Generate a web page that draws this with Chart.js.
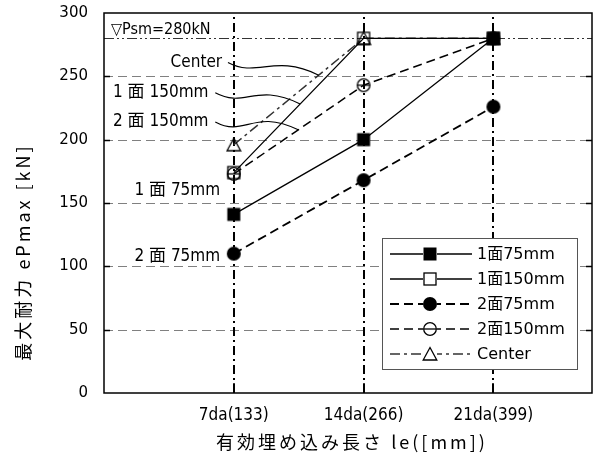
<!DOCTYPE html>
<html>
<head>
<meta charset="utf-8">
<script src="https://cdn.jsdelivr.net/npm/chart.js@4/dist/chart.umd.min.js"></script>
<style>
  html, body { margin: 0; padding: 0; background: #fff; }
  #wrap { width: 594px; height: 455px; }
</style>
</head>
<body>
<div id="wrap"><canvas id="chart"></canvas></div>
<script>
// data
const xTicks = [133, 266, 399];
const xTickLabels = ['7da(133)', '14da(266)', '21da(399)'];
const seriesNames = ['1面75mm', '1面150mm', '2面75mm', '2面150mm', 'Center'];
const face1_75 = [141, 200, 280];
const face1_150 = [174, 280, 280];
const face2_75 = [110, 168, 226];
const face2_150 = [173, 243, 280];
const centerVals = [196, 280, 280];
const psm = 280;

const LABEL_FONT = '"DejaVu Sans Condensed", "DejaVu Sans", "Noto Sans CJK JP", sans-serif';
const CJK_FONT = '"Noto Sans CJK JP", sans-serif';

// markers as small canvases (open ones are not filled, lines show through)
function makeMarker(kind) {
  const s = 16;
  const c = document.createElement('canvas');
  c.width = s; c.height = s;
  const g = c.getContext('2d');
  const m = s / 2;
  g.lineWidth = 1.3;
  g.strokeStyle = '#000';
  g.fillStyle = '#000';
  if (kind === 'sqFill') {
    g.fillRect(m - 6.5, m - 6.5, 13, 13);
  } else if (kind === 'sqOpen') {
    g.strokeRect(m - 6, m - 6, 12, 12);
  } else if (kind === 'circFill') {
    g.beginPath();
    g.arc(m, m, 7, 0, Math.PI * 2);
    g.fill();
  } else if (kind === 'circLine') {
    g.beginPath();
    g.arc(m, m, 6.3, 0, Math.PI * 2);
    g.stroke();
    g.beginPath();
    g.moveTo(m - 6.3, m); g.lineTo(m + 6.3, m);
    g.stroke();
  } else if (kind === 'tri') {
    g.beginPath();
    g.moveTo(m, m - 6.5);
    g.lineTo(m + 6.8, m + 6);
    g.lineTo(m - 6.8, m + 6);
    g.closePath();
    g.stroke();
  }
  return c;
}

const markers = [makeMarker('sqFill'), makeMarker('sqOpen'), makeMarker('circFill'), makeMarker('circLine'), makeMarker('tri')];
const seriesVals = [face1_75, face1_150, face2_75, face2_150, centerVals];
const lineDash = [[], [], [9, 5], [9, 5], [10, 4, 3, 4]];
const lineColor = ['#000', '#000', '#000', '#000', '#333'];
const lineWidth = [1.3, 1.3, 1.8, 1.5, 1.5];

const datasets = seriesNames.map((name, i) => ({
  label: name,
  data: xTicks.map((x, k) => ({ x: x, y: seriesVals[i][k] })),
  borderColor: lineColor[i],
  borderWidth: lineWidth[i],
  borderDash: lineDash[i],
  pointStyle: markers[i],
  pointRadius: 7,
  pointHoverRadius: 7,
  fill: false,
  tension: 0
}));

// label notes beside the first column, leaders end on a series line
const notes = [
  { text: 'Center', x: 121, y: 261, series: 4, from: 127, to: 220 },
  { text: '1 面 150mm', x: 107, y: 237, series: 1, from: 114, to: 201 },
  { text: '2 面 150mm', x: 107, y: 214, series: 3, from: 114, to: 199 },
  { text: '1 面 75mm', x: 119, y: 160 },
  { text: '2 面 75mm', x: 119, y: 108 }
];

function seriesAt(i, x) {
  const v = seriesVals[i];
  const t = (x - xTicks[0]) / (xTicks[1] - xTicks[0]);
  if (x < xTicks[0]) return v[0];
  return v[0] + (v[1] - v[0]) * t;
}

const decor = {
  id: 'decor',
  beforeDatasetsDraw(chart) {
    const { ctx, chartArea: a, scales: { x, y } } = chart;
    ctx.save();
    // horizontal grid
    ctx.strokeStyle = '#808080';
    ctx.lineWidth = 1;
    ctx.setLineDash([9, 5]);
    for (let v = 50; v < 300; v += 50) {
      const py = Math.round(y.getPixelForValue(v)) + 0.5;
      ctx.beginPath(); ctx.moveTo(a.left, py); ctx.lineTo(a.right, py); ctx.stroke();
    }
    // Psm line
    ctx.strokeStyle = '#333';
    ctx.setLineDash([10, 3, 2, 3, 2, 3]);
    const py = Math.round(y.getPixelForValue(psm)) + 0.5;
    ctx.beginPath(); ctx.moveTo(a.left, py); ctx.lineTo(a.right, py); ctx.stroke();
    // vertical dash-dot lines
    ctx.strokeStyle = '#000';
    ctx.lineWidth = 2;
    ctx.setLineDash([9, 4, 2, 4]);
    xTicks.forEach(v => {
      const px = Math.round(x.getPixelForValue(v));
      ctx.beginPath(); ctx.moveTo(px, a.bottom); ctx.lineTo(px, a.top); ctx.stroke();
    });
    ctx.restore();
  },
  afterDatasetsDraw(chart) {
    const { ctx, chartArea: a, scales: { x, y } } = chart;
    ctx.save();
    ctx.setLineDash([]);

    // notes and leader curves
    ctx.fillStyle = '#000';
    ctx.font = '17px ' + LABEL_FONT;
    ctx.textAlign = 'right';
    ctx.textBaseline = 'middle';
    notes.forEach(n => {
      const tx = x.getPixelForValue(n.x), ty = y.getPixelForValue(n.y);
      ctx.fillText(n.text, tx, ty);
      if (n.series !== undefined) {
        const sx = x.getPixelForValue(n.from), sy = ty;
        const ex = x.getPixelForValue(n.to), ey = y.getPixelForValue(seriesAt(n.series, n.to));
        ctx.strokeStyle = '#000';
        ctx.lineWidth = 1.1;
        ctx.beginPath();
        ctx.moveTo(sx, sy);
        ctx.bezierCurveTo(sx + 30, sy + 16, ex - 45, ey - 22, ex, ey);
        ctx.stroke();
      }
    });

    // Psm text
    ctx.textAlign = 'left';
    ctx.font = '16px ' + LABEL_FONT;
    ctx.fillText('▽Psm=' + psm + 'kN', a.left + 7, a.top + 17);

    // legend
    const bx = 382, by = 238, bw = 195, bh = 131;
    ctx.fillStyle = '#fff';
    ctx.fillRect(bx, by, bw, bh);
    ctx.strokeStyle = '#555';
    ctx.lineWidth = 1;
    ctx.strokeRect(bx + 0.5, by + 0.5, bw, bh);
    ctx.font = '16px "DejaVu Sans", "Noto Sans CJK JP", sans-serif';
    ctx.textBaseline = 'middle';
    chart.data.datasets.forEach((ds, i) => {
      const ry = by + 16 + i * 25;
      ctx.strokeStyle = ds.borderColor;
      ctx.lineWidth = ds.borderWidth;
      ctx.setLineDash(ds.borderDash);
      ctx.beginPath(); ctx.moveTo(bx + 8, ry); ctx.lineTo(bx + 90, ry); ctx.stroke();
      ctx.setLineDash([]);
      const mk = ds.pointStyle;
      ctx.fillStyle = '#fff';
      ctx.fillRect(bx + 48 - 7, ry - 7, 14, 14);
      ctx.drawImage(mk, bx + 48 - mk.width / 2, ry - mk.height / 2);
      ctx.fillStyle = '#000';
      ctx.fillText(ds.label, bx + 95, ry + 1);
    });

    // frame and inner ticks
    ctx.strokeStyle = '#000';
    ctx.lineWidth = 1.5;
    ctx.strokeRect(a.left, a.top, a.right - a.left, a.bottom - a.top);
    ctx.beginPath();
    xTicks.forEach(v => {
      const px = Math.round(x.getPixelForValue(v));
      ctx.moveTo(px, a.bottom); ctx.lineTo(px, a.bottom - 10);
    });
    for (let v = 50; v < 300; v += 50) {
      const py = Math.round(y.getPixelForValue(v)) + 0.5;
      ctx.moveTo(a.left, py); ctx.lineTo(a.left + 6, py);
      ctx.moveTo(a.right, py); ctx.lineTo(a.right - 6, py);
    }
    ctx.stroke();

    // axis titles
    ctx.fillStyle = '#000';
    ctx.font = '18px ' + CJK_FONT;
    ctx.textAlign = 'center';
    ctx.textBaseline = 'middle';
    ctx.letterSpacing = '3px';
    ctx.fillText('有効埋め込み長さ le([mm])', 352, 442);
    ctx.translate(23, 252);
    ctx.rotate(-Math.PI / 2);
    ctx.fillText('最大耐力 ePmax [kN]', 0, 0);
    ctx.restore();
  }
};

new Chart(document.getElementById('chart'), {
  type: 'line',
  data: { datasets: datasets },
  options: {
    responsive: true,
    maintainAspectRatio: false,
    animation: false,
    events: [],
    layout: { autoPadding: false, padding: { top: 13, right: 2, left: 0, bottom: 0 } },
    plugins: { legend: { display: false }, tooltip: { enabled: false } },
    scales: {
      x: {
        type: 'linear',
        min: 0,
        max: 500,
        afterBuildTicks: axis => { axis.ticks = xTicks.map(v => ({ value: v })); },
        afterFit: axis => { axis.height = 62; axis.paddingLeft = 0; axis.paddingRight = 0; },
        grid: { display: false, drawTicks: false },
        border: { display: false },
        ticks: {
          autoSkip: false,
          maxRotation: 0,
          padding: 12,
          color: '#000',
          font: { family: LABEL_FONT, size: 17 },
          callback: v => xTickLabels[xTicks.indexOf(v)]
        }
      },
      y: {
        min: 0,
        max: 300,
        afterFit: axis => { axis.width = 104; axis.paddingTop = 0; axis.paddingBottom = 0; },
        grid: { display: false, drawTicks: false },
        border: { display: false },
        ticks: {
          stepSize: 50,
          padding: 16,
          color: '#000',
          font: { family: '"DejaVu Sans", sans-serif', size: 15 }
        }
      }
    }
  },
  plugins: [decor]
});
</script>
</body>
</html>
